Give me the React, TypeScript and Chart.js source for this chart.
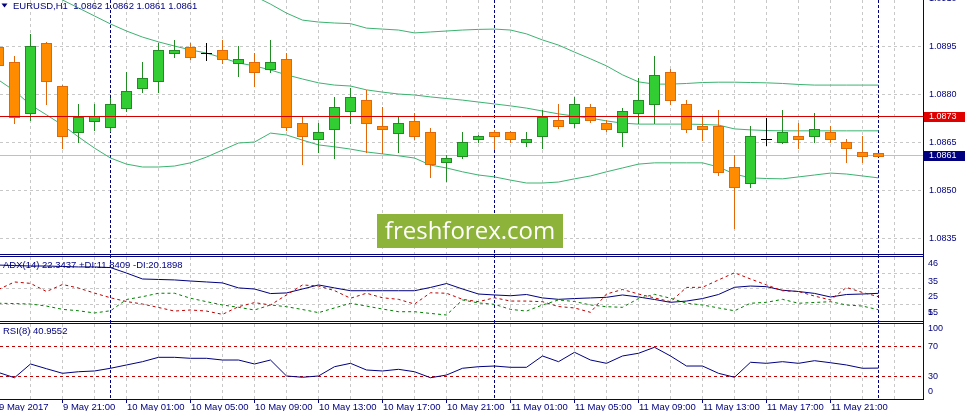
import React, { useEffect, useRef } from 'react';
import { Chart, registerables } from 'chart.js';

Chart.register(...registerables);

// ---------- DATA ----------
const symbolTitle = 'EURUSD,H1  1.0862 1.0862 1.0861 1.0861';
const adxTitle = 'ADX(14) 22.3437 +DI:11.8409 -DI:20.1898';
const rsiTitle = 'RSI(8) 40.9552';

const xLabels = ['9 May 2017', '9 May 21:00', '10 May 01:00', '10 May 05:00', '10 May 09:00', '10 May 13:00', '10 May 17:00', '10 May 21:00', '11 May 01:00', '11 May 05:00', '11 May 09:00', '11 May 13:00', '11 May 17:00', '11 May 21:00'];
const xLabelBars = [0, 4, 8, 12, 16, 20, 24, 28, 32, 36, 40, 44, 48, 52];
const daySeparatorBars = [7, 31, 55];

const open = [1.0895, 1.08903, 1.08744, 1.08963, 1.08828, 1.08684, 1.08719, 1.0870, 1.08759, 1.08822, 1.08844, 1.08931, 1.0895, 1.08931, 1.08941, 1.089, 1.08903, 1.08881, 1.08913, 1.08713, 1.08663, 1.08694, 1.0875, 1.08784, 1.08703, 1.08681, 1.08719, 1.08684, 1.08591, 1.0861, 1.08663, 1.08684, 1.08684, 1.08653, 1.08672, 1.08722, 1.08713, 1.08763, 1.08713, 1.08684, 1.08744, 1.08772, 1.08872, 1.08772, 1.08703, 1.08703, 1.08575, 1.08525, 1.08663, 1.08653, 1.08672, 1.08672, 1.08684, 1.08653, 1.08622, 1.0862];
const high = [1.08959, 1.08922, 1.08991, 1.08966, 1.08831, 1.08772, 1.08772, 1.08791, 1.08872, 1.08903, 1.08963, 1.08972, 1.08963, 1.08963, 1.08972, 1.08953, 1.08931, 1.08972, 1.08931, 1.08731, 1.08713, 1.08794, 1.08822, 1.08816, 1.08763, 1.08731, 1.08744, 1.08697, 1.08613, 1.08684, 1.08675, 1.08691, 1.08688, 1.08684, 1.08753, 1.08772, 1.08794, 1.08772, 1.08722, 1.08759, 1.08853, 1.08922, 1.08881, 1.08784, 1.08731, 1.08753, 1.08613, 1.08703, 1.08728, 1.08753, 1.08713, 1.08744, 1.08703, 1.08663, 1.08672, 1.0862];
const low = [1.08884, 1.08713, 1.08722, 1.08772, 1.08634, 1.08653, 1.08691, 1.08688, 1.0875, 1.08809, 1.08809, 1.08919, 1.08913, 1.08909, 1.089, 1.08859, 1.08828, 1.08872, 1.08691, 1.08584, 1.08622, 1.08603, 1.08713, 1.08622, 1.08619, 1.08622, 1.08663, 1.08544, 1.08531, 1.08603, 1.08653, 1.08631, 1.08653, 1.08641, 1.08634, 1.08697, 1.0870, 1.08716, 1.08688, 1.08641, 1.08713, 1.08713, 1.08772, 1.08684, 1.08659, 1.0855, 1.08384, 1.08513, 1.08644, 1.0865, 1.08634, 1.08653, 1.08653, 1.08591, 1.08591, 1.0861];
const close = [1.08894, 1.08731, 1.08953, 1.08844, 1.08672, 1.08731, 1.08734, 1.08772, 1.08813, 1.08853, 1.08941, 1.08941, 1.08919, 1.08931, 1.08913, 1.08913, 1.08872, 1.08903, 1.0870, 1.08672, 1.08684, 1.08763, 1.08794, 1.08713, 1.08694, 1.08713, 1.08672, 1.08584, 1.08603, 1.08653, 1.08672, 1.08672, 1.08663, 1.08663, 1.08731, 1.08703, 1.08772, 1.08722, 1.08694, 1.0875, 1.08784, 1.08863, 1.08784, 1.08694, 1.08694, 1.0856, 1.08513, 1.08672, 1.08663, 1.08684, 1.08663, 1.08694, 1.08663, 1.08634, 1.0861, 1.0861];

const bbUpper = [1.09316, 1.09309, 1.0930, 1.09284, 1.09269, 1.09253, 1.09238, 1.09222, 1.09209, 1.09197, 1.09184, 1.09172, 1.09159, 1.09147, 1.09134, 1.09122, 1.09109, 1.09084, 1.09056, 1.09034, 1.09028, 1.09025, 1.09023, 1.09009, 1.09006, 1.09003, 1.08994, 1.08997, 1.0900, 1.09003, 1.09005, 1.09006, 1.09003, 1.08991, 1.08972, 1.08956, 1.08934, 1.08913, 1.08891, 1.08863, 1.08841, 1.08834, 1.08834, 1.08836, 1.08839, 1.0884, 1.0884, 1.08839, 1.08838, 1.08836, 1.08833, 1.08831, 1.08831, 1.08831, 1.08831, 1.08831];
const bbMiddle = [1.09197, 1.09172, 1.09147, 1.09122, 1.09097, 1.09072, 1.09047, 1.09022, 1.0900, 1.08981, 1.08966, 1.08953, 1.08941, 1.08931, 1.08916, 1.0890, 1.08891, 1.08878, 1.08863, 1.0885, 1.08838, 1.08831, 1.08828, 1.08816, 1.08809, 1.08803, 1.0880, 1.08794, 1.08789, 1.08784, 1.08778, 1.08772, 1.08766, 1.08759, 1.0875, 1.08741, 1.08734, 1.08728, 1.08719, 1.08712, 1.08709, 1.08709, 1.08709, 1.08709, 1.08708, 1.08706, 1.08694, 1.08691, 1.08689, 1.08688, 1.08688, 1.08688, 1.08688, 1.08688, 1.08688, 1.08688];
const bbLower = [1.08847, 1.08813, 1.08769, 1.08738, 1.08706, 1.08669, 1.08634, 1.08603, 1.08584, 1.08575, 1.08575, 1.08578, 1.08588, 1.08606, 1.08628, 1.0865, 1.08653, 1.08681, 1.08675, 1.08659, 1.08644, 1.08638, 1.08631, 1.08622, 1.08616, 1.0861, 1.08603, 1.08581, 1.08572, 1.0856, 1.0855, 1.08544, 1.08534, 1.08525, 1.08525, 1.08528, 1.08538, 1.08547, 1.0856, 1.08572, 1.08584, 1.08588, 1.08588, 1.08588, 1.08588, 1.08575, 1.08553, 1.08541, 1.08539, 1.08538, 1.08544, 1.0855, 1.08556, 1.08553, 1.08547, 1.08541];

const adx = [40.4, 40.1, 39.8, 39.8, 39.5, 39.2, 39.2, 38.8, 35.3, 31.5, 31.2, 30.9, 30.2, 29.6, 29.0, 25.8, 25.1, 22.2, 22.6, 25.1, 27.7, 25.8, 24.0, 24.0, 24.0, 24.0, 24.0, 26.1, 28.6, 25.1, 21.9, 21.3, 20.8, 21.6, 19.4, 18.5, 19.0, 19.4, 19.8, 21.3, 20.0, 18.4, 16.6, 17.4, 19.0, 21.6, 26.2, 27.0, 26.6, 24.3, 23.5, 22.3, 20.0, 21.6, 21.9, 22.34];
const plusDI = [16.0, 15.8, 15.5, 14.2, 12.1, 11.2, 9.8, 11.2, 18.4, 20.2, 22.4, 22.4, 19.2, 17.0, 14.9, 13.4, 11.7, 14.9, 13.8, 12.0, 10.0, 13.0, 16.0, 14.2, 12.3, 10.6, 10.6, 9.5, 8.5, 18.1, 16.2, 15.3, 12.1, 11.0, 14.9, 18.1, 17.1, 14.9, 13.8, 13.4, 19.0, 21.7, 19.2, 16.0, 14.9, 13.0, 11.2, 16.0, 16.6, 18.5, 16.0, 16.5, 17.0, 14.9, 14.2, 11.84];
const minusDI = [24.8, 29.6, 28.7, 23.5, 28.0, 25.7, 22.5, 19.5, 17.1, 15.5, 13.3, 11.0, 11.7, 11.0, 8.9, 13.8, 16.4, 14.9, 21.3, 27.7, 27.0, 24.1, 19.2, 22.4, 19.5, 18.5, 15.5, 22.7, 22.4, 18.5, 17.0, 19.5, 17.4, 17.4, 17.0, 13.9, 13.0, 10.2, 21.9, 24.8, 21.9, 19.4, 17.0, 26.1, 26.2, 30.9, 35.5, 31.5, 27.7, 24.0, 23.5, 20.6, 18.1, 26.1, 22.9, 20.19];
const rsi = [35.1, 28.1, 46.4, 40.1, 34.0, 36.1, 37.1, 40.7, 45.1, 49.5, 55.3, 55.3, 54.0, 54.0, 51.7, 51.7, 46.4, 51.7, 30.4, 28.7, 30.4, 42.8, 47.3, 38.4, 37.1, 39.3, 36.1, 28.1, 31.7, 40.7, 42.8, 43.7, 42.0, 42.0, 57.1, 49.5, 62.0, 51.7, 47.3, 57.1, 60.7, 68.7, 57.1, 43.7, 43.7, 34.0, 28.7, 48.7, 47.3, 49.5, 47.3, 50.8, 48.1, 45.1, 40.7, 40.96];

const priceTicks = [1.091, 1.0895, 1.088, 1.0865, 1.085, 1.0835];
const priceTickText = ['1.0910', '1.0895', '1.0880', '1.0865', '1.0850', '1.0835'];
const adxGridLevels = [35, 25, 15];
const adxTickLabels = [46, 35, 25, 15, 5];
const rsiLevels = [70, 30];
const rsiTickLabels = [100, 70, 30, 0];
const redLinePrice = 1.0873;
const redLineText = '1.0873';
const bidPrice = 1.0861;
const bidText = '1.0861';
const watermarkText = 'freshforex.com';

// ---------- STYLE ----------
const NAVY = '#000080';
const GRID = '#c8c8c8';
const BAND = '#3cb371';
const BULL_FILL = '#32cd32';
const BULL_LINE = '#238b23';
const BEAR_FILL = '#ff8c00';
const BEAR_LINE = '#e0680a';
const FONT = "'Liberation Sans', Arial, sans-serif";

const W = 965;
const H = 411;
const PLOT_RIGHT = 923;

const xy = (arr: number[]) => arr.map((v, i) => ({ x: i, y: v }));

const mt4Plugin = {
  id: 'mt4',
  beforeDraw(chart: any) {
    const ctx = chart.ctx;
    ctx.save();
    ctx.fillStyle = '#ffffff';
    ctx.fillRect(0, 0, chart.width, chart.height);
    ctx.restore();
  },
  beforeDatasetsDraw(chart: any) {
    const { ctx, scales } = chart;
    const xs = scales.x, ys = scales.y, ya = scales.yAdx, yr = scales.yRsi;
    const panels = [[0, 254], [257, 321], [324, 399]];
    ctx.save();
    ctx.lineWidth = 1;
    ctx.strokeStyle = GRID;
    ctx.setLineDash([3, 3]);
    for (let i = 2; i <= 57; i += 2) {
      const x = Math.round(xs.getPixelForValue(i) - 0.5) + 0.5;
      panels.forEach(([t, b]) => {
        ctx.beginPath();
        ctx.moveTo(x, t);
        ctx.lineTo(x, b);
        ctx.stroke();
      });
    }
    priceTicks.forEach((p) => {
      const y = Math.round(ys.getPixelForValue(p)) - 0.5;
      ctx.beginPath();
      ctx.moveTo(0, y);
      ctx.lineTo(PLOT_RIGHT, y);
      ctx.stroke();
    });
    adxGridLevels.forEach((v) => {
      const y = Math.round(ya.getPixelForValue(v)) - 0.5;
      ctx.beginPath();
      ctx.moveTo(0, y);
      ctx.lineTo(PLOT_RIGHT, y);
      ctx.stroke();
    });
    // bid line
    ctx.setLineDash([]);
    ctx.strokeStyle = '#c0c0c0';
    {
      const y = Math.round(ys.getPixelForValue(bidPrice)) - 0.5;
      ctx.beginPath();
      ctx.moveTo(0, y);
      ctx.lineTo(PLOT_RIGHT, y);
      ctx.stroke();
    }
    // RSI levels
    ctx.strokeStyle = '#c00000';
    ctx.setLineDash([3, 3]);
    rsiLevels.forEach((v) => {
      const y = Math.round(yr.getPixelForValue(v)) + 0.5;
      ctx.beginPath();
      ctx.moveTo(0, y);
      ctx.lineTo(PLOT_RIGHT, y);
      ctx.stroke();
    });
    // day separators
    ctx.strokeStyle = NAVY;
    ctx.setLineDash([3, 2]);
    daySeparatorBars.forEach((b) => {
      const x = Math.round(xs.getPixelForValue(b) - 0.5) + 0.5;
      ctx.beginPath();
      ctx.moveTo(x, 0);
      ctx.lineTo(x, 399);
      ctx.stroke();
    });
    ctx.setLineDash([]);
    // watermark
    ctx.fillStyle = '#8db33a';
    ctx.fillRect(377, 214, 186, 34);
    ctx.fillStyle = '#ffffff';
    ctx.font = `24px 'Open Sans', ${FONT}`;
    ctx.textAlign = 'center';
    ctx.textBaseline = 'alphabetic';
    ctx.fillText(watermarkText, 470, 238.5);
    ctx.restore();
  },
  afterDatasetsDraw(chart: any) {
    const { ctx, scales } = chart;
    const xs = scales.x, ys = scales.y, ya = scales.yAdx, yr = scales.yRsi;
    ctx.save();
    // candles
    for (let i = 0; i < open.length; i++) {
      const xc = xs.getPixelForValue(i);
      const left = Math.round(xc - 5.5);
      const wx = Math.round(xc - 0.5);
      const o = open[i], c = close[i];
      const top = Math.round(ys.getPixelForValue(Math.max(o, c)));
      const bot = Math.round(ys.getPixelForValue(Math.min(o, c)));
      const hi = Math.round(ys.getPixelForValue(high[i]));
      const lo = Math.round(ys.getPixelForValue(low[i]));
      const doji = o === c;
      const bull = c > o;
      const line = doji ? '#000000' : bull ? BULL_LINE : BEAR_LINE;
      const fill = bull ? BULL_FILL : BEAR_FILL;
      ctx.fillStyle = line;
      ctx.fillRect(wx, hi, 1, lo - hi + 1);
      if (doji) {
        ctx.fillRect(left, top, 11, 1);
      } else {
        ctx.fillRect(left, top, 11, bot - top + 1);
        if (bot - top >= 2) {
          ctx.fillStyle = fill;
          ctx.fillRect(left + 1, top + 1, 9, bot - top - 1);
        }
      }
    }
    // red horizontal line
    ctx.strokeStyle = '#d40000';
    ctx.lineWidth = 1;
    {
      const y = Math.round(ys.getPixelForValue(redLinePrice)) - 0.5;
      ctx.beginPath();
      ctx.moveTo(0, y);
      ctx.lineTo(PLOT_RIGHT, y);
      ctx.stroke();
    }
    // panel borders
    ctx.fillStyle = NAVY;
    [254, 256, 321, 323, 399].forEach((r) => ctx.fillRect(0, r, PLOT_RIGHT + 1, 1));
    ctx.fillRect(PLOT_RIGHT, 0, 1, 400);

    // titles
    ctx.fillStyle = NAVY;
    ctx.beginPath();
    ctx.moveTo(1.5, 3.5);
    ctx.lineTo(7.5, 3.5);
    ctx.lineTo(4.5, 7.5);
    ctx.closePath();
    ctx.fill();
    ctx.font = `9.5px ${FONT}`;
    ctx.textAlign = 'left';
    ctx.textBaseline = 'middle';
    ctx.fillText(symbolTitle, 13, 6);
    ctx.fillText(adxTitle, 3, 265.5);
    ctx.fillText(rsiTitle, 3, 331.5);

    // price axis labels
    ctx.font = `9px ${FONT}`;
    priceTicks.forEach((p, k) => {
      ctx.fillText(priceTickText[k], 929, ys.getPixelForValue(p));
    });
    const boxes: [number, string, string][] = [[redLinePrice, redLineText, '#e00000'], [bidPrice, bidText, NAVY]];
    boxes.forEach(([p, t, col]) => {
      const y = ys.getPixelForValue(p);
      ctx.fillStyle = col;
      ctx.fillRect(924, Math.round(y) - 5, 41, 10);
      ctx.fillStyle = '#ffffff';
      ctx.fillText(t, 929, Math.round(y));
    });
    ctx.fillStyle = NAVY;
    adxTickLabels.forEach((v) => {
      const y = Math.min(ya.getPixelForValue(v) + 7.5, 312.5);
      ctx.fillText(String(v), 928, y);
    });
    rsiTickLabels.forEach((v) => {
      const y = Math.max(329, Math.min(392, yr.getPixelForValue(v)));
      ctx.fillText(String(v), 928, y);
    });

    // time axis
    ctx.font = `9.5px ${FONT}`;
    xLabelBars.forEach((b, k) => {
      const x = Math.round(xs.getPixelForValue(b) - 0.5);
      ctx.fillRect(x, 400, 1, 3);
      ctx.fillText(xLabels[k], x + 1, 407);
    });
    ctx.restore();
  },
};

export default function App() {
  const ref = useRef<HTMLCanvasElement | null>(null);
  useEffect(() => {
    if (!ref.current) return;
    const line = (data: number[], axis: string, color: string, dash: number[] = []) => ({
      data: xy(data),
      yAxisID: axis,
      borderColor: color,
      borderWidth: 1,
      borderDash: dash,
      pointRadius: 0,
      tension: 0,
      fill: false,
    });
    const chart = new Chart(ref.current, {
      type: 'line',
      data: {
        datasets: [
          line(bbUpper, 'y', BAND),
          line(bbMiddle, 'y', BAND),
          line(bbLower, 'y', BAND),
          line(plusDI, 'yAdx', '#008000', [3, 3]),
          line(minusDI, 'yAdx', '#c00000', [3, 3]),
          line(adx, 'yAdx', NAVY),
          line(rsi, 'yRsi', NAVY),
        ] as any,
      },
      options: {
        animation: false,
        responsive: false,
        events: [],
        layout: { padding: { left: 0, right: W - PLOT_RIGHT, top: 0, bottom: H - 399 } },
        plugins: { legend: { display: false }, tooltip: { enabled: false }, title: { display: false } },
        scales: {
          x: { type: 'linear', display: false, min: 0.09375, max: 57.78125 },
          y: { type: 'linear', display: false, min: 1.0785, max: 1.09096875 },
          yAdx: { type: 'linear', display: false, min: -45.18, max: 209.77 },
          yRsi: { type: 'linear', display: false, min: -0.267, max: 531.73 },
        },
      },
      plugins: [mt4Plugin],
    });
    return () => chart.destroy();
  }, []);
  return (
    <div style={{ position: 'fixed', left: 0, top: 0, width: W, height: H }}>
      <canvas ref={ref} width={W} height={H} style={{ width: W, height: H, display: 'block' }} />
    </div>
  );
}
